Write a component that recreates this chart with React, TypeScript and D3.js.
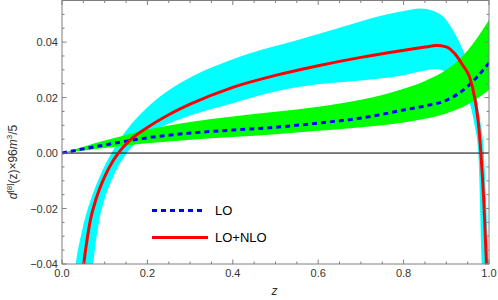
import React from "react";
import * as d3 from "d3";

// LO central curve and its (green) band
const zLO = [0, 0.05, 0.1, 0.15, 0.2, 0.3, 0.4, 0.5, 0.6, 0.7, 0.8, 0.85, 0.9, 0.95, 1.0];
const loVal = [0, 0.0015, 0.0029, 0.0043, 0.0055, 0.0072, 0.0083, 0.0093, 0.0108, 0.0126, 0.0155, 0.017, 0.019, 0.024, 0.0325];
const loHigh = [0, 0.0023, 0.0045, 0.0065, 0.0084, 0.0112, 0.0132, 0.0149, 0.0167, 0.0192, 0.0232, 0.026, 0.03, 0.037, 0.048];
const loLow = [0, 0.0009, 0.0018, 0.0027, 0.0035, 0.0048, 0.0058, 0.0068, 0.008, 0.0093, 0.011, 0.0124, 0.0143, 0.0175, 0.0227];

// LO+NLO central curve
const zNLO = [0.04, 0.05, 0.058, 0.066, 0.08, 0.089, 0.1, 0.12, 0.132, 0.16, 0.2, 0.25, 0.3, 0.4, 0.5, 0.6, 0.7, 0.79, 0.85, 0.877, 0.9, 0.92, 0.94, 0.955, 0.967, 0.975, 0.981, 0.988, 0.994, 1.0];
const nloVal = [-0.054, -0.041, -0.032, -0.0245, -0.0165, -0.0125, -0.0085, -0.0027, 0, 0.0047, 0.0092, 0.0138, 0.0176, 0.0237, 0.028, 0.0315, 0.0345, 0.0368, 0.0382, 0.0388, 0.0383, 0.0358, 0.0313, 0.0272, 0.0195, 0.011, 0, -0.018, -0.04, -0.062];

// cyan band edges (upper / lower)
const zCyanHi = [0.025, 0.033, 0.048, 0.07, 0.09, 0.116, 0.15, 0.2, 0.25, 0.3, 0.35, 0.44, 0.55, 0.65, 0.752, 0.8, 0.838, 0.87, 0.893, 0.924, 0.944, 0.955, 0.965, 0.978, 0.988, 0.994, 0.999, 1.0];
const cyanHi = [-0.0476, -0.039, -0.0273, -0.0157, -0.0079, 0, 0.008, 0.0165, 0.0226, 0.0272, 0.0308, 0.036, 0.0407, 0.0452, 0.0497, 0.0512, 0.0521, 0.0512, 0.0491, 0.042, 0.0353, 0.031, 0.025, 0.013, 0, -0.02, -0.04, -0.046];
const zCyanLo = [0.065, 0.073, 0.087, 0.1, 0.12, 0.152, 0.2, 0.23, 0.3, 0.4, 0.5, 0.6, 0.7, 0.79, 0.85, 0.877, 0.9, 0.92, 0.94, 0.955, 0.965, 0.975, 0.983, 0.99];
const cyanLo = [-0.053, -0.04, -0.0245, -0.0165, -0.0085, 0, 0.0068, 0.0092, 0.0135, 0.018, 0.0222, 0.0248, 0.0262, 0.0278, 0.0298, 0.0303, 0.0292, 0.0272, 0.0235, 0.018, 0.011, 0, -0.04, -0.07];

const xTicks = [0, 0.2, 0.4, 0.6, 0.8, 1.0];
const yTicks = [-0.04, -0.02, 0, 0.02, 0.04];

const W = 498;
const H = 300;
const L = 62;
const R = 489;
const T = 0.5;
const B = 264;

const font = "'Liberation Sans', Arial, sans-serif";

export default function App() {
  const x = d3.scaleLinear().domain([0, 1]).range([L, R]);
  const y = d3.scaleLinear().domain([-0.04, 0.055]).range([B, T]);

  // area under an edge down to well below the plot; cyan band = hi-area minus lo-area (evenodd)
  const under = (zs: number[]) =>
    d3
      .area<number>()
      .x((_, i) => x(zs[i]))
      .y0(y(-0.1))
      .y1((d) => y(d))
      .curve(d3.curveMonotoneX);
  const cyanPath = (under(zCyanHi)(cyanHi) as string) + (under(zCyanLo)(cyanLo) as string);

  const greenArea = d3
    .area<number>()
    .x((_, i) => x(zLO[i]))
    .y0((_, i) => y(loLow[i]))
    .y1((_, i) => y(loHigh[i]))
    .curve(d3.curveMonotoneX);

  const loLine = d3
    .line<number>()
    .x((_, i) => x(zLO[i]))
    .y((d) => y(d))
    .curve(d3.curveMonotoneX);
  const nloLine = d3
    .line<number>()
    .x((_, i) => x(zNLO[i]))
    .y((d) => y(d))
    .curve(d3.curveMonotoneX);

  const xMinor = d3.range(0, 1.0001, 0.05);
  const yMinor = d3.range(-0.04, 0.0551, 0.005);
  const frame = "#7f7f7f";

  return (
    <svg width={W} height={H} style={{ position: "absolute", left: 0, top: 0 }} fontFamily={font}>
      <defs>
        <clipPath id="plot">
          <rect x={L} y={T} width={R - L} height={B - T} />
        </clipPath>
      </defs>
      <rect width={W} height={H} fill="#fff" />
      <g clipPath="url(#plot)">
        <path d={cyanPath} fill="#00ffff" fillRule="evenodd" />
        <path d={greenArea(loVal) as string} fill="#00ff00" />
        <line x1={L} x2={R} y1={y(0)} y2={y(0)} stroke="#000" strokeWidth={1} />
        <path d={loLine(loVal) as string} fill="none" stroke="#0000ff" strokeWidth={3} strokeDasharray="5,4" />
        <path d={nloLine(nloVal) as string} fill="none" stroke="#ff0000" strokeWidth={3} />
      </g>
      {/* frame */}
      <rect x={L} y={T} width={R - L} height={B - T} fill="none" stroke={frame} strokeWidth={1} />
      {xMinor.map((t, i) => {
        const major = xTicks.some((m) => Math.abs(m - t) < 1e-6);
        const len = major ? 4.5 : 2.5;
        return (
          <g key={"xt" + i} stroke={frame}>
            <line x1={x(t)} x2={x(t)} y1={B} y2={B - len} />
            <line x1={x(t)} x2={x(t)} y1={T} y2={T + len} />
          </g>
        );
      })}
      {yMinor.map((t, i) => {
        const major = yTicks.some((m) => Math.abs(m - t) < 1e-6);
        const len = major ? 4.5 : 2.5;
        return (
          <g key={"yt" + i} stroke={frame}>
            <line x1={L} x2={L + len} y1={y(t)} y2={y(t)} />
            <line x1={R} x2={R - len} y1={y(t)} y2={y(t)} />
          </g>
        );
      })}
      {xTicks.map((t) => (
        <text key={"xl" + t} x={x(t)} y={B + 13} textAnchor="middle" fontSize={11} fill="#333">
          {t.toFixed(1)}
        </text>
      ))}
      {yTicks.map((t) => (
        <text key={"yl" + t} x={L - 4} y={y(t) + 4} textAnchor="end" fontSize={11} fill="#333">
          {t === 0 ? "0.00" : (t < 0 ? "\u2212" : "") + Math.abs(t).toFixed(2)}
        </text>
      ))}
      <text x={(L + R) / 2 - 1} y={295} textAnchor="middle" fontSize={12} fontStyle="italic" fill="#333">
        z
      </text>
      <text transform={`translate(17,162) rotate(-90)`} textAnchor="middle" fontSize={12} fill="#333">
        <tspan fontStyle="italic">d</tspan>
        <tspan fontSize={8} dy={-5}>[8]</tspan>
        <tspan dy={5}>(z)×96</tspan>
        <tspan fontStyle="italic">m</tspan>
        <tspan fontSize={8} dy={-5}>3</tspan>
        <tspan dy={5}>/5</tspan>
      </text>
      {/* legend */}
      <line x1={152} x2={205} y1={210.5} y2={210.5} stroke="#0000ff" strokeWidth={3} strokeDasharray="5,4" />
      <text x={215} y={215} fontSize={13} fill="#000">LO</text>
      <line x1={152} x2={208} y1={237.5} y2={237.5} stroke="#ff0000" strokeWidth={3} />
      <text x={215} y={242} fontSize={13} fill="#000">LO+NLO</text>
    </svg>
  );
}
